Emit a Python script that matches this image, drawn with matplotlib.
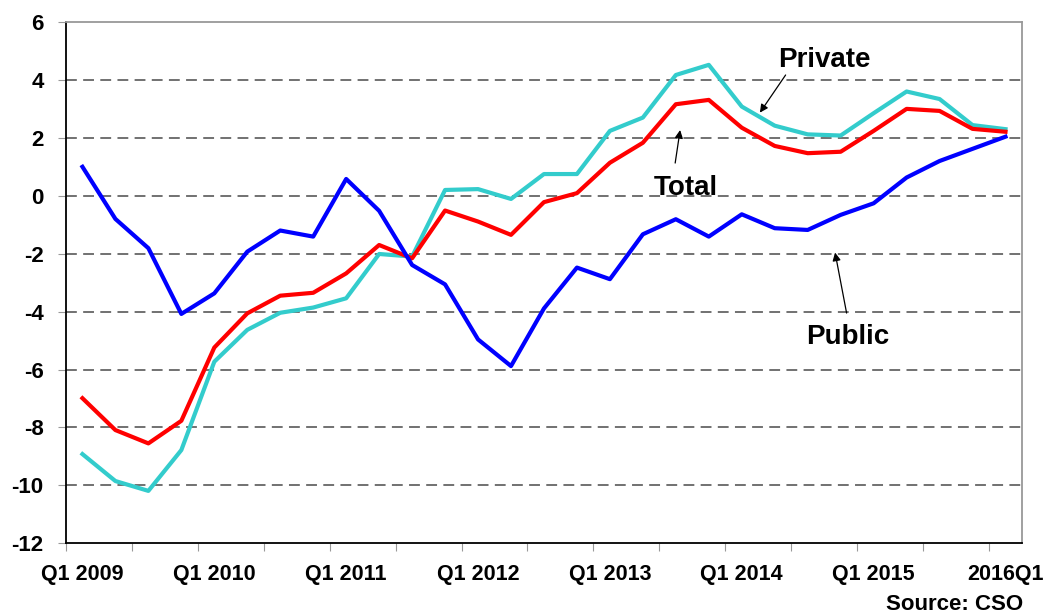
import matplotlib
matplotlib.use("Agg")
import matplotlib.pyplot as plt
import numpy as np

plt.rcParams['font.family'] = ['Liberation Sans', 'DejaVu Sans']

quarters = [f"Q{q} {y}" for y in range(2009, 2016) for q in (1, 2, 3, 4)] + ["2016Q1"]
tick_labels = ["Q1 2009", "Q1 2010", "Q1 2011", "Q1 2012", "Q1 2013", "Q1 2014", "Q1 2015", "2016Q1"]

public = [1.00, -0.80, -1.81, -4.08, -3.37, -1.93, -1.20, -1.41, 0.58, -0.52,
          -2.39, -3.06, -4.96, -5.88, -3.89, -2.48, -2.88, -1.33, -0.81, -1.41,
          -0.64, -1.12, -1.18, -0.66, -0.26, 0.63, 1.20, 1.62, 2.04]
total = [-6.99, -8.09, -8.55, -7.77, -5.24, -4.06, -3.45, -3.35, -2.68, -1.70,
         -2.16, -0.51, -0.89, -1.35, -0.22, 0.09, 1.14, 1.83, 3.16, 3.31,
         2.35, 1.72, 1.47, 1.52, 2.24, 3.00, 2.93, 2.31, 2.21]
private = [-8.92, -9.85, -10.19, -8.78, -5.73, -4.63, -4.04, -3.86, -3.54, -2.01,
           -2.10, 0.20, 0.23, -0.11, 0.75, 0.75, 2.24, 2.70, 4.17, 4.52,
           3.08, 2.42, 2.12, 2.08, 2.85, 3.60, 3.34, 2.44, 2.30]

fig = plt.figure(figsize=(10.47, 6.16), dpi=100)
ax = fig.add_axes([0.0630, 0.118, 0.9131, 0.8463])

x = np.arange(len(quarters))
ax.plot(x, private, color='#33CCCC', lw=3, zorder=3)
ax.plot(x, total, color='#FF0000', lw=3, zorder=4)
ax.plot(x, public, color='#0000FF', lw=3, zorder=5)

ax.set_xlim(-0.5, len(quarters) - 0.5)
ax.set_ylim(-12, 6)
ax.set_yticks(np.arange(-12, 7, 2))
ax.set_yticklabels([str(v) for v in range(-12, 7, 2)], fontsize=16, fontweight='bold')
for v in range(-10, 6, 2):
    ax.axhline(v, color='#666666', lw=1.3, ls=(0, (6, 3.5)), zorder=1)

ax.set_xticks(np.arange(-0.5, len(quarters) - 1, 2))
ax.set_xticklabels([])
label_pos = [quarters.index(t) if t in quarters else quarters.index(t) for t in tick_labels]
ax.set_xticks(label_pos, minor=True)
ax.set_xticklabels(tick_labels, minor=True, fontsize=15.5, fontweight='bold')
ax.tick_params(axis='x', which='major', length=6, color='#999999', direction='out')
ax.tick_params(axis='x', which='minor', length=0, pad=15)
ax.tick_params(axis='y', length=6, color='#999999', direction='out', pad=10)

ax.spines['left'].set_color('black')
ax.spines['bottom'].set_color('black')
ax.spines['left'].set_linewidth(1.3)
ax.spines['bottom'].set_linewidth(1.3)
ax.spines['top'].set_color('#999999')
ax.spines['right'].set_color('#999999')
ax.spines['top'].set_linewidth(1.3)
ax.spines['right'].set_linewidth(1.3)

arrow = dict(arrowstyle='-|>', color='black', lw=0.9, mutation_scale=12, shrinkA=0, shrinkB=0)
ax.annotate('', xy=(20.55, 2.87), xytext=(21.33, 4.17), arrowprops=arrow)
ax.text(22.5, 4.69, 'Private', fontsize=20, fontweight='bold', ha='center', va='center')
ax.annotate('', xy=(18.13, 2.27), xytext=(17.98, 1.13), arrowprops=arrow)
ax.text(18.3, 0.27, 'Total', fontsize=20, fontweight='bold', ha='center', va='center')
ax.annotate('', xy=(22.83, -1.96), xytext=(23.18, -4.05), arrowprops=arrow)
ax.text(23.2, -4.88, 'Public', fontsize=20, fontweight='bold', ha='center', va='center')

fig.text(0.977, 0.018, 'Source: CSO', fontsize=16, fontweight='bold', ha='right', va='center')

fig.savefig('out.png', dpi=100)
